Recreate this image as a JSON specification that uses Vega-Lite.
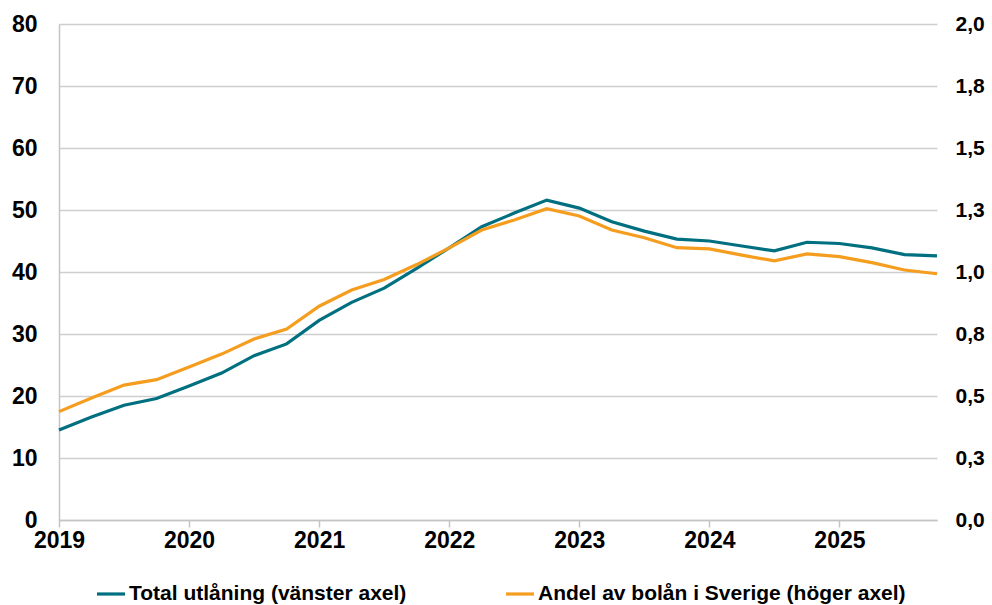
{
  "$schema": "https://vega.github.io/schema/vega-lite/v6.json",
  "width": 878,
  "height": 496,
  "autosize": {"type": "none"},
  "padding": {"left": 59, "top": 24, "right": 55, "bottom": 85},
  "background": "white",
  "config": {
    "view": {"stroke": null},
    "font": "Liberation Sans",
    "axis": {"labelFont": "Liberation Sans", "labelFontWeight": "bold", "labelFontSize": 23, "labelColor": "#000000", "domainColor": "#c4c4c4", "domainWidth": 1.5, "gridColor": "#cfcfcf", "gridWidth": 1.5, "tickColor": "#c4c4c4", "tickWidth": 1.5}
  },
  "data": {
    "values": [
      {"t": 2019.0, "total": 14.5, "andel": 0.437},
      {"t": 2019.25, "total": 16.6, "andel": 0.492},
      {"t": 2019.5, "total": 18.5, "andel": 0.544},
      {"t": 2019.75, "total": 19.6, "andel": 0.566},
      {"t": 2020.0, "total": 21.6, "andel": 0.617},
      {"t": 2020.25, "total": 23.7, "andel": 0.669},
      {"t": 2020.5, "total": 26.5, "andel": 0.73},
      {"t": 2020.75, "total": 28.4, "andel": 0.77},
      {"t": 2021.0, "total": 32.2, "andel": 0.862},
      {"t": 2021.25, "total": 35.1, "andel": 0.927},
      {"t": 2021.5, "total": 37.4, "andel": 0.97},
      {"t": 2021.75, "total": 40.6, "andel": 1.03},
      {"t": 2022.0, "total": 43.9, "andel": 1.097},
      {"t": 2022.25, "total": 47.3, "andel": 1.169},
      {"t": 2022.5, "total": 49.5, "andel": 1.21},
      {"t": 2022.75, "total": 51.6, "andel": 1.255},
      {"t": 2023.0, "total": 50.3, "andel": 1.226},
      {"t": 2023.25, "total": 48.1, "andel": 1.169},
      {"t": 2023.5, "total": 46.6, "andel": 1.138},
      {"t": 2023.75, "total": 45.3, "andel": 1.098},
      {"t": 2024.0, "total": 45.0, "andel": 1.093},
      {"t": 2024.25, "total": 44.2, "andel": 1.068},
      {"t": 2024.5, "total": 43.4, "andel": 1.045},
      {"t": 2024.75, "total": 44.8, "andel": 1.073},
      {"t": 2025.0, "total": 44.6, "andel": 1.062},
      {"t": 2025.25, "total": 43.9, "andel": 1.038},
      {"t": 2025.5, "total": 42.8, "andel": 1.008},
      {"t": 2025.75, "total": 42.6, "andel": 0.993}
    ]
  },
  "encoding": {
    "x": {
      "field": "t", "type": "quantitative",
      "scale": {"domain": [2019, 2025.75], "nice": false, "zero": false},
      "axis": {"title": null, "values": [2019, 2020, 2021, 2022, 2023, 2024, 2025], "format": "d", "grid": false, "tickSize": 7, "labelPadding": 2, "labelFlush": false, "labelOverlap": false}
    }
  },
  "layer": [
    {
      "mark": {"type": "line", "strokeWidth": 3.2, "strokeCap": "butt"},
      "encoding": {
        "y": {
          "field": "total", "type": "quantitative",
          "scale": {"domain": [0, 80], "nice": false},
          "axis": {"title": null, "orient": "left", "values": [0, 10, 20, 30, 40, 50, 60, 70, 80], "ticks": false, "labelPadding": 22, "grid": true}
        },
        "color": {
          "datum": "Total utlåning (vänster axel)",
          "scale": {"domain": ["Total utlåning (vänster axel)", "Andel av bolån i Sverige (höger axel)"], "range": ["#007080", "#F59D1E"]},
          "legend": {
            "title": null, "orient": "none", "direction": "horizontal",
            "legendX": 36, "legendY": 554,
            "symbolType": "stroke", "symbolSize": 784, "symbolStrokeWidth": 3.2,
            "labelFont": "Liberation Sans", "labelFontWeight": "bold", "labelFontSize": 21, "labelColor": "#000000",
            "labelOffset": 2, "columnPadding": 92, "labelLimit": 500
          }
        }
      }
    },
    {
      "mark": {"type": "line", "strokeWidth": 3.2, "strokeCap": "butt"},
      "encoding": {
        "y": {
          "field": "andel", "type": "quantitative",
          "scale": {"domain": [0, 2], "nice": false},
          "axis": {"title": null, "orient": "right", "values": [0, 0.25, 0.5, 0.75, 1, 1.25, 1.5, 1.75, 2], "labelExpr": "replace(format(datum.value, '.1f'), '.', ',')", "ticks": false, "domain": false, "grid": false, "labelPadding": 18, "labelFontSize": 21}
        },
        "color": {"datum": "Andel av bolån i Sverige (höger axel)"}
      }
    }
  ],
  "resolve": {"scale": {"y": "independent"}}
}
